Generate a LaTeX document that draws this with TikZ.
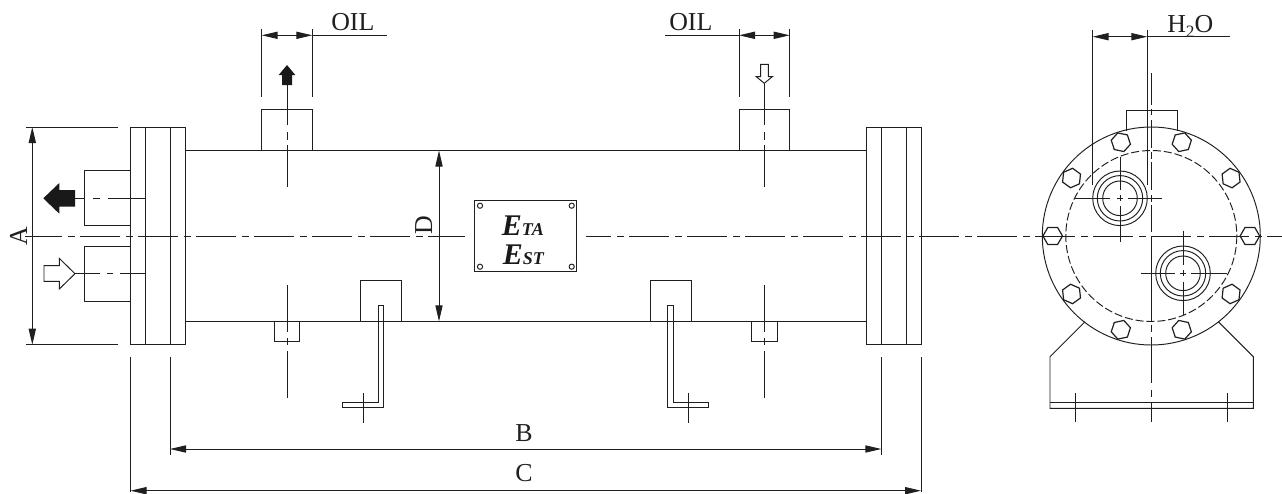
\documentclass[tikz,border=0pt]{standalone}
\usepackage{fontspec}
\setmainfont{Liberation Serif}
\usetikzlibrary{arrows.meta}
\tikzset{
  ln/.style={line width=0.72pt,draw=black!88},
  ctr/.style={ln,dash pattern=on 30pt off 4.5pt on 5pt off 4pt},
  dimn/.style={ln,{Triangle[length=12pt,width=5.4pt]}-{Triangle[length=12pt,width=5.4pt]}},
  lbl/.style={inner sep=0pt,anchor=base,font=\fontsize{19.4pt}{20pt}\selectfont,text=black!88},
  bigE/.style={inner sep=0pt,anchor=base west,text=black!90}
}
\newcommand{\plate}[2]{{\fontsize{22.5pt}{24pt}\selectfont\bfseries\itshape #1\fontsize{13.5pt}{14pt}\selectfont #2}}
\begin{document}
\begin{tikzpicture}[x=0.75pt,y=-0.75pt]
\useasboundingbox (0,0) rectangle (1282,493);
% flanges and shell
\foreach \xa/\xb/\xc/\xd in {130.5/145/170/185.5,866/881.3/906.7/921}{
  \draw[ln] (\xa,127) rectangle (\xd,344.7);
  \draw[ln] (\xb,127) -- (\xb,344.7) (\xc,127) -- (\xc,344.7);
}
\draw[ln] (185.5,150.5) -- (866,150.5);
\draw[ln] (185.5,321.3) -- (866,321.3);
% main centre line
\draw[ctr,dash phase=2.25pt] (25,236) -- (465,236);
\draw[ctr,dash phase=11.25pt] (586,236) -- (1282,236);
% top nozzles
\foreach \c/\a/\b in {287/261.7/312.3,764.3/739/789.7}{
  \draw[ln] (\a,150.5) |- (\b,109.7) -- (\b,150.5);
  \draw[ln] (\a,29) -- (\a,97.3) (\b,29) -- (\b,97.3);
  \draw[dimn] (\a,35.3) -- (\b,35.3);
  \draw[ln] (\c,125) -- (\c,85) (\c,132) -- (\c,140) (\c,145) -- (\c,186.7);
}
\draw[ln] (312.3,35.3) -- (386.7,35.3);
\draw[ln] (665,35.3) -- (739,35.3);
\node[lbl,anchor=base west] (oila) at (331,30) {OIL};
\node[lbl,anchor=base west] (oilb) at (669,30) {OIL};
% top arrows
\fill[black!90] (287,65) -- (295.3,75) -- (292,75) -- (292,85) -- (282,85) -- (282,75) -- (278.7,75) -- cycle;
\draw[ln,fill=white] (764.3,83.3) -- (756.3,76.7) -- (760.7,76.7) -- (760.7,64.3) -- (768.3,64.3) -- (768.3,76.7) -- (772.3,76.7) -- cycle;
\draw[ln] (764.3,83.3) -- (764.3,125);
% bottom small boxes
\foreach \c/\a/\b in {287/274/299.7,764.3/751.7/777.7}{
  \draw[ln] (\a,321.3) |- (\b,341.3) -- (\b,321.3);
  \draw[ln] (\c,285) -- (\c,332) (\c,338) -- (\c,345) (\c,351) -- (\c,398);
}
% lugs and brackets
\draw[ln] (360.3,321.3) |- (401.3,280.7) -- (401.3,321.3);
\draw[ln] (650,321.3) |- (691,280.7) -- (691,321.3);
\draw[ln] (378.3,305.3) -- (383.3,305.3) -- (383.3,407.7) -- (342.3,407.7) -- (342.3,402.7) -- (378.3,402.7) -- cycle;
\draw[ln] (363,392.7) -- (363,422.7);
\draw[ln] (667.5,305.3) -- (673,305.3) -- (673,402.7) -- (708.7,402.7) -- (708.7,407.7) -- (667.5,407.7) -- cycle;
\draw[ln] (688.3,392.7) -- (688.3,422.7);
% left nozzles
\draw[ln] (130.5,170.7) -| (84.7,225.7) -- (130.5,225.7);
\draw[ln] (130.5,246) -| (84.7,301) -- (130.5,301);
\draw[ln] (75,198.3) -- (85,198.3) (93,198.3) -- (100,198.3) (108,198.3) -- (145,198.3);
\draw[ln] (75,273.7) -- (100,273.7) (107,273.7) -- (113,273.7) (120,273.7) -- (145,273.7);
\fill[black!90] (43.3,198.3) -- (59.3,183) -- (59.3,190) -- (75,190) -- (75,206.7) -- (59.3,206.7) -- (59.3,213.7) -- cycle;
\draw[ln,fill=white] (75,273.7) -- (59.3,258.4) -- (59.3,265.7) -- (44,265.7) -- (44,281.3) -- (59.3,281.3) -- (59.3,289) -- cycle;
% overall dimensions
\draw[ln] (26,127) -- (118,127) (26,344.7) -- (118,344.7);
\draw[dimn] (32.3,127) -- (32.3,344.7);
\node[lbl,rotate=90] (dima) at (27,236) {A};
\draw[dimn] (439,150.5) -- (439,321.3);
\node[lbl,rotate=90] (dimd) at (432,225) {D};
\draw[ln] (130.5,357.3) -- (130.5,492.3) (921,357.3) -- (921,492.3);
\draw[ln] (170,357.3) -- (170,455) (881.3,357.3) -- (881.3,455);
\draw[dimn] (170,449) -- (881.3,449);
\draw[dimn] (130.5,490.7) -- (921,490.7);
\node[lbl] (dimb) at (524,441) {B};
\node[lbl] (dimc) at (524,481) {C};
% nameplate
\draw[ln] (474.7,200.3) rectangle (576.3,271.3);
\foreach \x/\y in {480/205.7,571.7/205.7,480/266.7,571.7/266.7}
  \draw[ln] (\x,\y) circle[radius=2.6];
\node[bigE] (eta) at (501.7,235) {\plate{E}{TA}};
\node[bigE] (est) at (502.7,264) {\plate{E}{ST}};
% end view
\coordinate (C) at (1151.3,236);
\draw[ln] (C) circle[radius=109];
\draw[ln,dash pattern=on 6pt off 2.2pt] (C) circle[radius=85.5];
\foreach \a in {0,36,...,324}{
  \begin{scope}[shift={(C)},rotate=\a,shift={(98.6,0)}]
    \draw[ln,line width=0.9pt] (0:9.8)--(60:9.8)--(120:9.8)--(180:9.8)--(240:9.8)--(300:9.8)--cycle;
  \end{scope}
}
\draw[ln] (1126,130.5) |- (1177,110) -- (1177,130.5);
\foreach \x/\y in {1120/198.3,1183/273.3}{
  \draw[ln] (\x,\y) circle[radius=27.3] (\x,\y) circle[radius=22.7] (\x,\y) circle[radius=17.3];
}
\draw[ln] (1075,198.3) -- (1110,198.3) (1117,198.3) -- (1123,198.3) (1128,198.3) -- (1162,198.3);
\draw[ln] (1120,156.7) -- (1120,190) (1120,195) -- (1120,201) (1120,206) -- (1120,241.7);
\draw[ln] (1141,273.3) -- (1175,273.3) (1180,273.3) -- (1186,273.3) (1190.5,273.3) -- (1227,273.3);
\draw[ln] (1183,230.7) -- (1183,265) (1183,270.3) -- (1183,276.3) (1183,281.5) -- (1183,315);
\draw[ln] (1151.3,73) -- (1151.3,105) (1151.3,108.5) -- (1151.3,115) (1151.3,120) -- (1151.3,148)
  (1151.3,152) -- (1151.3,159) (1151.3,162) -- (1151.3,190) (1151.3,195) -- (1151.3,202)
  (1151.3,205) -- (1151.3,232) (1151.3,236) -- (1151.3,321) (1151.3,325) -- (1151.3,332)
  (1151.3,337) -- (1151.3,383) (1151.3,390) -- (1151.3,397) (1151.3,403) -- (1151.3,422.3);
% support
\draw[ln] (1085,321.7) -- (1050,356.7) -- (1050,408.3) -- (1253.3,408.3) -- (1253.3,356.7) -- (1218.3,321.7);
\draw[ln] (1050,402.7) -- (1253.3,402.7);
\draw[ln] (1075.3,392.7) -- (1075.3,422.3) (1227.7,392.7) -- (1227.7,422.3);
% H2O dimension
\draw[ln] (1092.7,30) -- (1092.7,185) (1147.3,30) -- (1147.3,185);
\draw[dimn] (1092.7,36.7) -- (1147.3,36.7);
\draw[ln] (1147.3,36.7) -- (1230,36.7);
\node[lbl,anchor=base west] (water) at (1167,32) {H\raisebox{-0.22em}{\fontsize{13pt}{14pt}\selectfont 2}O};
\end{tikzpicture}
\end{document}
